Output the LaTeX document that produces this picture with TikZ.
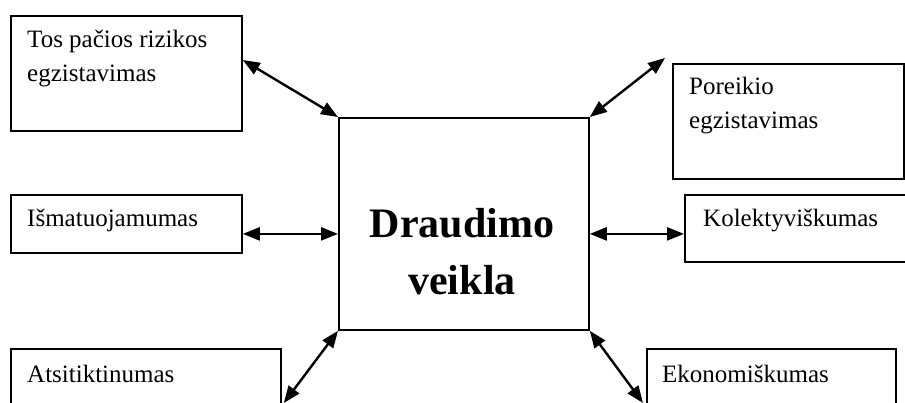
\documentclass[tikz,border=0pt]{standalone}
\usepackage{fontspec}
\setmainfont{Liberation Serif}
\usetikzlibrary{arrows.meta}
\begin{document}
\begin{tikzpicture}[x=1pt,y=-1pt,
  box/.style={draw, line width=1.8pt, rectangle, inner sep=0pt, anchor=north west},
  sidetext/.style={font=\fontsize{25}{34}\selectfont, align=left, inner sep=0pt, anchor=base west},
  maintext/.style={font=\fontsize{42}{57}\selectfont\bfseries, align=center, inner sep=0pt, anchor=base},
  link/.style={>={Triangle[length=17pt,width=13pt]}, <->, line width=2.4pt}
]
\useasboundingbox (0,0) rectangle (905,403);
\clip (0,0) rectangle (905,403);

% surrounding boxes
\node[box, minimum width=231pt, minimum height=115pt] (tl) at (10,15) {};
\node[box, minimum width=231pt, minimum height=115pt] (tr) at (672,63) {};
\node[box, minimum width=231pt, minimum height=58pt] (ml) at (10,194) {};
\node[box, minimum width=240pt, minimum height=67pt] (mr) at (684,194) {};
\node[box, minimum width=270pt, minimum height=80pt] (bl) at (10,348) {};
\node[box, minimum width=249pt, minimum height=80pt] (br) at (646,348) {};

% central box
\node[box, minimum width=250pt, minimum height=212pt] (c) at (338,117) {};

% labels (two-line labels are anchored on their last baseline)
\node[sidetext] (tltext) at (27,82) {Tos pačios rizikos\\egzistavimas};
\node[sidetext] (trtext) at (689,129) {Poreikio\\egzistavimas};
\node[sidetext] (mltext) at (27,227) {Išmatuojamumas};
\node[sidetext] (mrtext) at (703,227) {Kolektyviškumas};
\node[sidetext] (bltext) at (27,382) {Atsitiktinumas};
\node[sidetext] (brtext) at (662,382) {Ekonomiškumas};
\node[maintext] (ctext) at (462,295) {Draudimo\\veikla};

% connectors
\draw[link] ([yshift=-45pt]tl.north east) -- (c.north west);
\draw[link] (c.north east) -- ([shift={(-7pt,5pt)}]tr.north west);
\draw[link] ([yshift=-10pt]ml.east) -- ([yshift=-10pt]c.west);
\draw[link] ([yshift=-10pt]c.east) -- ([yshift=-5.5pt]mr.west);
\draw[link] (c.south west) -- ([shift={(2pt,-55pt)}]bl.north east);
\draw[link] (c.south east) -- ([shift={(-3pt,-55pt)}]br.north west);
\end{tikzpicture}
\end{document}
